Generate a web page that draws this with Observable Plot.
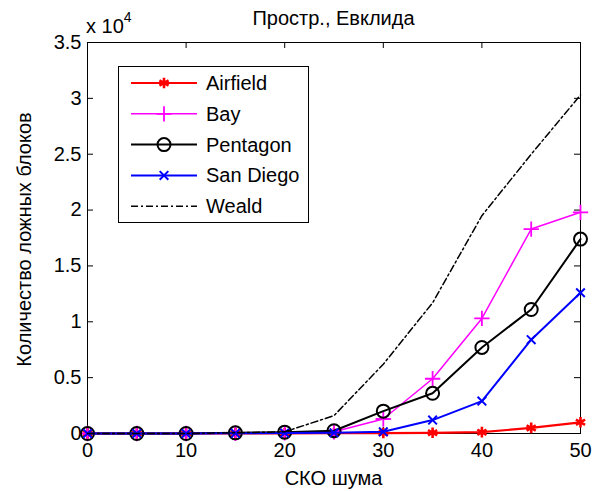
<!DOCTYPE html>
<html>
<head>
<meta charset="utf-8">
<script src="https://cdn.jsdelivr.net/npm/d3@7"></script>
<script src="https://cdn.jsdelivr.net/npm/@observablehq/plot@0.6"></script>
<style>
  html, body { margin: 0; padding: 0; background: #fff; }
  #chart { width: 600px; height: 491px; }
  svg { font-family: "Liberation Sans", Arial, sans-serif; }
</style>
</head>
<body>
<div id="chart"></div>
<script>
// ---- data ----
const noise = [0, 5, 10, 15, 20, 25, 30, 35, 40, 45, 50];
const airfield = [0, 0, 0, 10, 20, 30, 40, 60, 120, 500, 1000];
const bay      = [0, 0, 0, 20, 50, 150, 1300, 4900, 10300, 18300, 19800];
const pentagon = [0, 0, 0, 60, 120, 250, 2000, 3600, 7700, 11100, 17400];
const sanDiego = [0, 0, 0, 20, 40, 60, 150, 1200, 2900, 8400, 12600];
const weald    = [0, 0, 0, 60, 150, 1600, 6200, 11700, 19500, 25000, 30300];
const seriesNames = ["Airfield", "Bay", "Pentagon", "San Diego", "Weald"];
const xTicks = [0, 10, 20, 30, 40, 50];
const yTicks = [0, 5000, 10000, 15000, 20000, 25000, 30000, 35000];
const titleText = "Простр., Евклида";
const xLabel = "СКО шума";
const yLabel = "Количество ложных блоков";

// ---- styles ----
const styles = {
  "Airfield":  {stroke: "#ff0000", width: 2.2, symbol: "asterisk", r: 5, sw: 2.6, dash: null},
  "Bay":       {stroke: "#ff00ff", width: 1.5, symbol: "plus", r: 5, sw: 1.8, dash: null},
  "Pentagon":  {stroke: "#000000", width: 2, symbol: "circle", r: 6.5, sw: 2, dash: null},
  "San Diego": {stroke: "#0000ff", width: 2, symbol: "times", r: 4, sw: 2, dash: null},
  "Weald":     {stroke: "#000000", width: 1.5, symbol: null, r: 0, sw: 0, dash: "7,3,2,3"}
};
const values = [airfield, bay, pentagon, sanDiego, weald];
const rows = [];
seriesNames.forEach((s, i) => noise.forEach((x, j) => rows.push({series: s, x, y: values[i][j]})));

const W = 600, H = 491, mL = 87, mT = 42, mR = 20, mB = 58;
const pw = W - mL - mR, ph = H - mT - mB;
const FS = 20;

const marks = [
  Plot.frame({stroke: "#000", strokeWidth: 1}),
  // inward ticks on all sides
  Plot.tickX(xTicks, {x: d => d, insetTop: ph - 6, stroke: "#000"}),
  Plot.tickX(xTicks, {x: d => d, insetBottom: ph - 6, stroke: "#000"}),
  Plot.tickY(yTicks, {y: d => d, insetRight: pw - 6, stroke: "#000"}),
  Plot.tickY(yTicks, {y: d => d, insetLeft: pw - 6, stroke: "#000"}),
  Plot.axisX({ticks: xTicks, tickSize: 0, tickPadding: 9, fontSize: FS, label: null, tickFormat: d => String(d)}),
  Plot.axisY({ticks: yTicks, tickSize: 0, tickPadding: 6, fontSize: FS, label: null, tickFormat: d => String(d / 10000)})
];
seriesNames.forEach(s => {
  const st = styles[s];
  const data = rows.filter(d => d.series === s);
  marks.push(Plot.line(data, {x: "x", y: "y", stroke: st.stroke, strokeWidth: st.width, strokeDasharray: st.dash || undefined, curve: "linear"}));
  if (st.symbol) {
    marks.push(Plot.dot(data, {x: "x", y: "y", symbol: () => st.symbol, r: st.r, stroke: st.stroke, strokeWidth: st.sw, fill: "none"}));
  }
});

const svgEl = Plot.plot({
  width: W, height: H,
  marginLeft: mL, marginTop: mT, marginRight: mR, marginBottom: mB,
  x: {domain: [0, 50]},
  y: {domain: [0, 35000]},
  style: {fontFamily: "'Liberation Sans', Arial, sans-serif", fontSize: FS + "px", color: "#000", background: "#fff", overflow: "visible"},
  marks
});
document.getElementById("chart").appendChild(svgEl);

const svg = d3.select(svgEl);

// title
svg.append("text").attr("x", mL + pw / 2).attr("y", 25).attr("text-anchor", "middle")
  .attr("font-size", FS).attr("fill", "#000").text(titleText);
// x label
svg.append("text").attr("x", mL + pw / 2).attr("y", 485).attr("text-anchor", "middle")
  .attr("font-size", FS).attr("fill", "#000").text(xLabel);
// y label
svg.append("text").attr("transform", `translate(31,${mT + ph / 2 + 2}) rotate(-90)`).attr("text-anchor", "middle")
  .attr("font-size", FS).attr("fill", "#000").text(yLabel);
// exponent
const ex = svg.append("text").attr("x", mL - 1).attr("y", 33).attr("text-anchor", "start")
  .attr("font-size", FS).attr("fill", "#000");
ex.append("tspan").text("x 10");
ex.append("tspan").attr("dy", -11).attr("font-size", FS * 0.7).text("4");

// legend
const lg = svg.append("g");
lg.append("rect").attr("x", 118.5).attr("y", 66.5).attr("width", 190).attr("height", 156)
  .attr("fill", "#fff").attr("stroke", "#000").attr("stroke-width", 1);
const symMap = {asterisk: d3.symbolAsterisk, plus: d3.symbolPlus, circle: d3.symbolCircle, times: d3.symbolTimes};
seriesNames.forEach((s, i) => {
  const st = styles[s];
  const yy = 83 + i * 30.8;
  lg.append("line").attr("x1", 131).attr("x2", 197).attr("y1", yy).attr("y2", yy)
    .attr("stroke", st.stroke).attr("stroke-width", st.width).attr("stroke-dasharray", st.dash);
  if (st.symbol) {
    lg.append("path").attr("transform", `translate(164,${yy})`)
      .attr("d", d3.symbol(symMap[st.symbol], Math.PI * st.r * st.r)())
      .attr("fill", "none").attr("stroke", st.stroke).attr("stroke-width", st.sw);
  }
  lg.append("text").attr("x", 206).attr("y", yy).attr("dy", "0.35em").attr("text-anchor", "start")
    .attr("font-size", FS).attr("fill", "#000").text(s);
});
</script>
</body>
</html>
